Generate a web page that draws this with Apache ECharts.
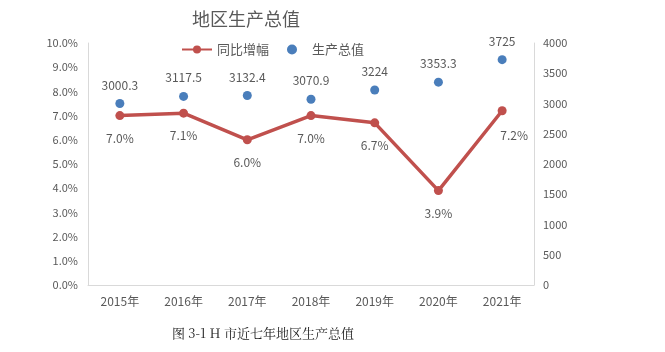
<!DOCTYPE html>
<html>
<head>
<meta charset="utf-8">
<script src="https://cdn.jsdelivr.net/npm/echarts@6/dist/echarts.min.js"></script>
<style>
  html, body { margin: 0; padding: 0; background: #fff; }
  #chart { width: 665px; height: 352px; }
</style>
</head>
<body>
<div id="chart"></div>
<script>
  // 年份
  const years = ["2015年", "2016年", "2017年", "2018年", "2019年", "2020年", "2021年"];
  // 同比增幅 (%)
  const growthRate = [7.0, 7.1, 6.0, 7.0, 6.7, 3.9, 7.2];
  // 生产总值
  const gdpValue = [3000.3, 3117.5, 3132.4, 3070.9, 3224, 3353.3, 3725];

  const chart = echarts.init(document.getElementById("chart"));
  const axisColor = "#595959";
  const font = "'Noto Sans CJK SC', 'Noto Sans', sans-serif";

  // 最后一个点的标签放在右下方
  const growthData = growthRate.map((v, i) =>
    i === growthRate.length - 1
      ? { value: v, label: { offset: [12, 2] } }
      : v
  );

  let option = {
    backgroundColor: "#fff",
    textStyle: { fontFamily: font },
    title: {
      text: "地区生产总值",
      left: 241,
      textAlign: "center",
      top: 5,
      textStyle: {
        color: "#595959",
        fontSize: 18,
        fontWeight: "normal",
        fontFamily: font,
      },
    },
    legend: {
      left: 176,
      top: 38,
      itemGap: 18,
      itemWidth: 30,
      itemHeight: 10,
      textStyle: { color: axisColor, fontSize: 13 },
      data: [
        { name: "同比增幅" },
        { name: "生产总值", icon: "circle" },
      ],
    },
    grid: {
      left: 88,
      right: 131,
      top: 43,
      bottom: 67,
    },
    xAxis: {
      type: "category",
      data: years,
      boundaryGap: true,
      axisLine: { show: true, lineStyle: { color: "#d9d9d9" } },
      axisTick: { show: false },
      axisLabel: { color: axisColor, fontSize: 12, margin: 10 },
    },
    yAxis: [
      {
        type: "value",
        min: 0,
        max: 10,
        interval: 1,
        axisLine: { show: true, lineStyle: { color: "#d9d9d9" } },
        axisTick: { show: false },
        splitLine: { show: false },
        axisLabel: {
          color: axisColor,
          fontSize: 11,
          margin: 10,
          formatter: (v) => v.toFixed(1) + "%",
        },
      },
      {
        type: "value",
        min: 0,
        max: 4000,
        interval: 500,
        axisLine: { show: true, lineStyle: { color: "#d9d9d9" } },
        axisTick: { show: false },
        splitLine: { show: false },
        axisLabel: {
          color: axisColor,
          fontSize: 11,
          margin: 9,
          formatter: (v) => String(v),
        },
      },
    ],
    series: [
      {
        name: "同比增幅",
        type: "line",
        yAxisIndex: 0,
        data: growthData,
        symbol: "circle",
        symbolSize: 9,
        itemStyle: { color: "#C0504D" },
        lineStyle: { color: "#C0504D", width: 3.5 },
        label: {
          show: true,
          position: "bottom",
          distance: 12,
          color: axisColor,
          fontSize: 12,
          formatter: (p) => p.value.toFixed(1) + "%",
        },
        z: 3,
      },
      {
        name: "生产总值",
        type: "scatter",
        yAxisIndex: 1,
        data: gdpValue,
        symbol: "circle",
        symbolSize: 9,
        itemStyle: { color: "#4A7EBB", opacity: 1 },
        label: {
          show: true,
          position: "top",
          distance: 8,
          color: axisColor,
          fontSize: 12,
        },
        z: 2,
      },
    ],
    graphic: [
      {
        type: "text",
        left: 172,
        top: 327,
        style: {
          text: "图 3-1 H 市近七年地区生产总值",
          fill: "#222",
          fontSize: 13,
          fontFamily: "'Noto Serif CJK SC', 'Liberation Serif', 'DejaVu Serif', serif",
        },
      },
    ],
  };
  chart.setOption(option, true);
</script>
</body>
</html>
